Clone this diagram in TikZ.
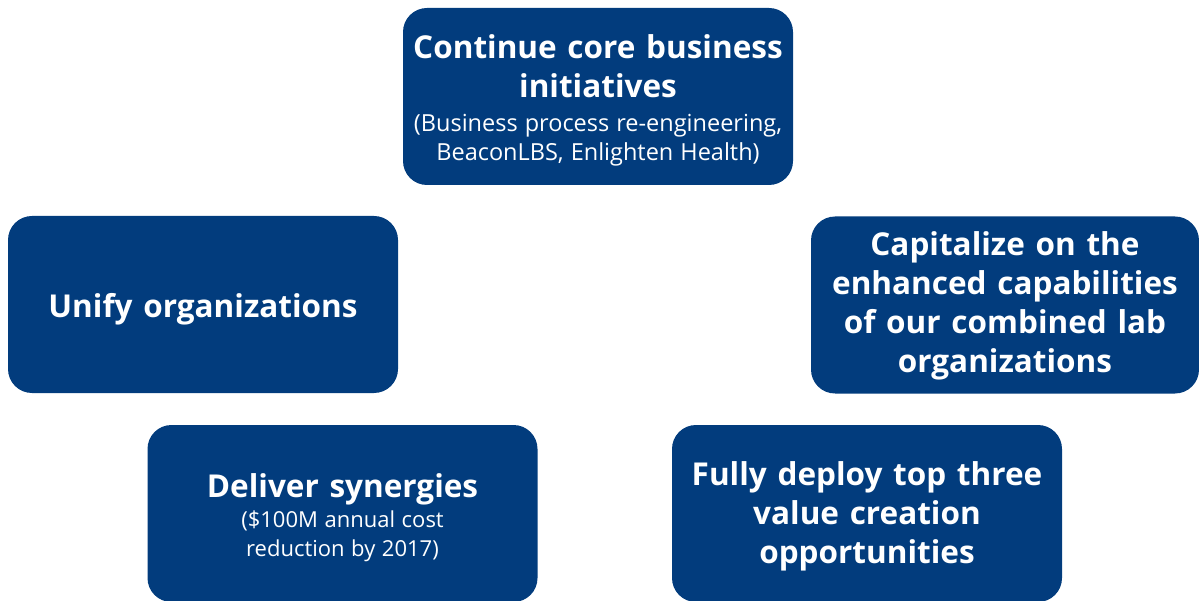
\documentclass[tikz,border=0pt]{standalone}
\usepackage{fontspec}
\setmainfont{Open Sans}
\definecolor{boxblue}{HTML}{023C7D}
\newcommand{\ttlfont}{\fontsize{31.5}{39}\selectfont\bfseries\spaceskip=0.34em\relax}
\newcommand{\subtxtfont}{\fontsize{23.5}{28.5}\selectfont\spaceskip=0.3em\relax}
\newcommand{\subsmallfont}{\fontsize{22}{28.5}\selectfont\spaceskip=0.3em\relax}
\tikzset{
  card/.style={fill=boxblue, rounded corners=24pt, text=white,
    minimum width=390pt, minimum height=177pt, text width=386pt,
    align=center, inner sep=0pt, text height=30pt}
}
\begin{document}
\begin{tikzpicture}[x=1pt,y=-1pt]
\useasboundingbox (0,0) rectangle (1199,601);
\node[card, text depth=106pt] (top) at (598,96.5) {{\ttlfont Continue core business\\initiatives\par}\vspace{6pt}{\subtxtfont (Business process re-engineering,\\BeaconLBS, Enlighten Health)\par}};
\node[card, text depth=3pt] (left) at (203,304.5) {{\ttlfont Unify organizations\par}};
\node[card, minimum width=388pt, text depth=128pt] (right) at (1005,305) {{\ttlfont Capitalize on the\\enhanced capabilities\\of our combined lab\\organizations\par}};
\node[card, text depth=63pt] (bl) at (342.5,513.5) {{\ttlfont Deliver synergies\par}\vspace{2pt}{\subsmallfont (\$100M annual cost\\reduction by 2017)\par}};
\node[card, text depth=87pt] (br) at (867,513.5) {{\ttlfont Fully deploy top three\\value creation\\opportunities\par}};
\end{tikzpicture}
\end{document}
